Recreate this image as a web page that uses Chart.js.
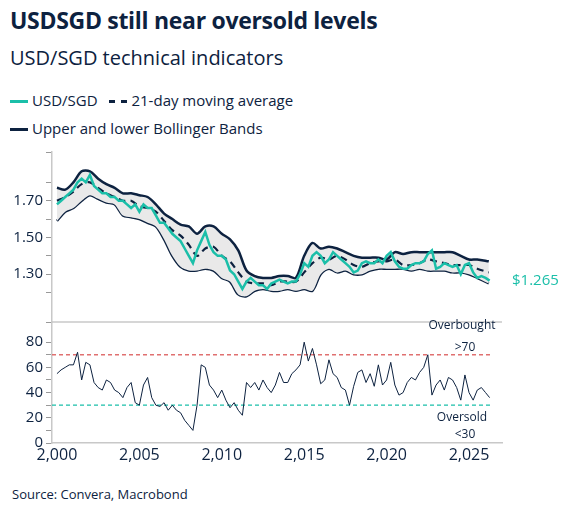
<!DOCTYPE html>
<html><head><meta charset="utf-8">
<script src="https://cdn.jsdelivr.net/npm/chart.js@4"></script>
<style>
body{margin:0;width:568px;height:520px;background:#fff;font-family:"Open Sans","Noto Sans",sans-serif;color:#0d2240;position:relative;overflow:hidden}
.t{position:absolute;white-space:nowrap}
#title{left:10px;top:4px;font-size:23px;font-weight:700;letter-spacing:-0.3px}
#sub{left:10px;top:44px;font-size:20px}
.lg{font-size:15px}
.sw{display:inline-block;width:18px;height:0;border-top:3px solid;vertical-align:middle;margin-right:4px}
#src{left:12px;top:485px;font-size:13px}
canvas{position:absolute;left:0;top:0}
</style></head><body>
<div class="t" id="title">USDSGD still near oversold levels</div>
<div class="t" id="sub">USD/SGD technical indicators</div>
<div class="t lg" style="left:10px;top:90px"><span class="sw" style="border-color:#1bbfa9"></span>USD/SGD <span class="sw" style="border-color:#0d2240;border-top-style:dashed;margin-left:8px"></span>21-day moving average</div>
<div class="t lg" style="left:10px;top:118px"><span class="sw" style="border-color:#0d2240"></span>Upper and lower Bollinger Bands</div>
<div class="t" id="src">Source: Convera, Macrobond</div>
<canvas id="c" width="568" height="520"></canvas>
<script>
const spotX=[];for(let i=0;i<106;i++)spotX.push(2000+i*0.25);
const spot=[1.68,1.70,1.72,1.74,1.76,1.80,1.82,1.80,1.84,1.78,1.76,1.74,1.74,1.72,1.72,1.70,1.70,1.68,1.66,1.68,1.64,1.68,1.66,1.66,1.62,1.58,1.58,1.55,1.52,1.50,1.48,1.44,1.40,1.36,1.43,1.48,1.53,1.46,1.42,1.40,1.40,1.38,1.32,1.30,1.26,1.22,1.26,1.28,1.26,1.24,1.24,1.22,1.25,1.26,1.27,1.26,1.25,1.26,1.26,1.30,1.36,1.34,1.40,1.42,1.40,1.36,1.38,1.42,1.40,1.38,1.36,1.34,1.31,1.32,1.36,1.37,1.36,1.36,1.38,1.36,1.40,1.42,1.37,1.34,1.33,1.33,1.35,1.36,1.36,1.37,1.41,1.43,1.33,1.34,1.36,1.35,1.34,1.35,1.30,1.35,1.36,1.31,1.28,1.29,1.28,1.265];
const bandX=[];for(let i=0;i<52;i++)bandX.push(2000+i*0.5);bandX.push(2026.2);
const ma=[1.70,1.72,1.75,1.79,1.80,1.77,1.74,1.72,1.70,1.70,1.67,1.66,1.64,1.59,1.54,1.51,1.46,1.40,1.44,1.45,1.40,1.37,1.31,1.26,1.25,1.25,1.24,1.26,1.26,1.26,1.31,1.36,1.39,1.38,1.40,1.38,1.35,1.34,1.36,1.37,1.37,1.38,1.35,1.35,1.36,1.38,1.37,1.36,1.35,1.35,1.35,1.33,1.31];
const upper=[1.77,1.76,1.80,1.86,1.86,1.82,1.79,1.77,1.74,1.74,1.73,1.72,1.68,1.63,1.60,1.57,1.56,1.52,1.56,1.56,1.52,1.49,1.43,1.32,1.29,1.28,1.28,1.29,1.29,1.28,1.40,1.47,1.44,1.45,1.44,1.42,1.40,1.39,1.39,1.39,1.38,1.42,1.41,1.42,1.42,1.42,1.42,1.42,1.42,1.40,1.38,1.38,1.37];
const lower=[1.59,1.64,1.66,1.70,1.73,1.71,1.69,1.68,1.62,1.61,1.60,1.58,1.56,1.49,1.40,1.34,1.32,1.32,1.33,1.32,1.28,1.26,1.19,1.18,1.21,1.22,1.21,1.21,1.22,1.21,1.22,1.21,1.30,1.33,1.31,1.32,1.30,1.30,1.32,1.33,1.33,1.33,1.33,1.32,1.33,1.32,1.32,1.32,1.31,1.31,1.30,1.28,1.25];
const rsi=[55,58,60,62,62,72,50,64,62,48,44,42,50,48,42,40,36,44,48,32,30,46,52,36,30,29,32,26,30,26,24,18,14,10,30,62,60,46,42,36,42,34,28,32,26,22,48,44,48,42,50,44,40,46,56,48,48,55,58,62,80,65,75,62,47,50,66,55,52,44,42,30,45,56,58,48,55,45,62,46,50,64,46,38,40,48,52,50,56,60,70,38,46,50,42,52,50,44,34,54,40,34,42,44,40,36];
const xTicks=[2000,2005,2010,2015,2020,2025];
const navy='#0d2240',teal='#1bbfa9';
const pts=(xs,ys)=>xs.map((x,i)=>({x,y:ys[i]}));
const last=spot[spot.length-1];
const extra={id:'extra',afterDraw(c){const x=c.ctx,a=c.chartArea,y1=c.scales.y1,y2=c.scales.y2;
 x.save();x.strokeStyle='#c8c8c8';x.lineWidth=1.5;x.beginPath();x.moveTo(a.left,y1.bottom);x.lineTo(a.right,y1.bottom);x.stroke();
 x.font='15px "Open Sans"';x.fillStyle=teal;x.textBaseline='middle';x.fillText('$'+last.toFixed(3),512,y1.getPixelForValue(last));
 x.fillStyle=navy;x.font='12px "Open Sans"';x.textAlign='center';
 x.fillText('Overbought',462,y2.getPixelForValue(93));x.fillText('>70',465,y2.getPixelForValue(76));
 x.fillText('Oversold',462,y2.getPixelForValue(20));x.fillText('<30',465,y2.getPixelForValue(7));
 x.restore();}};
const hl=(v,col)=>({data:[{x:1999.7,y:v},{x:2026.3,y:v}],yAxisID:'y2',borderColor:col,borderWidth:1.3,borderDash:[4,3],pointRadius:0,order:5});
new Chart(document.getElementById('c'),{type:'line',
 data:{datasets:[
  {data:pts(bandX,upper),yAxisID:'y1',borderColor:navy,borderWidth:2.5,pointRadius:0,fill:'+1',backgroundColor:'#e9e9e9',tension:0.3,order:4},
  {data:pts(bandX,lower),yAxisID:'y1',borderColor:navy,borderWidth:2.5,pointRadius:0,tension:0.3,order:4},
  {data:pts(bandX,ma),yAxisID:'y1',borderColor:navy,borderWidth:2.2,borderDash:[7,5],pointRadius:0,tension:0.3,order:2},
  {data:pts(spotX,spot),yAxisID:'y1',borderColor:teal,borderWidth:2.5,pointRadius:0,order:1},
  hl(70,'#e07070'),hl(30,teal),
  {data:pts(spotX,rsi),yAxisID:'y2',borderColor:navy,borderWidth:1,pointRadius:0,order:1}
 ]},
 plugins:[extra],
 options:{responsive:false,animation:false,plugins:{legend:{display:false},tooltip:{enabled:false}},
  layout:{padding:{top:152,right:66,bottom:47,left:0}},
  scales:{
   x:{type:'linear',min:1999.7,max:2027,afterFit:s=>{s.height=30},afterBuildTicks:s=>{s.ticks=xTicks.map(v=>({value:v}))},
     ticks:{autoSkip:false,color:navy,font:{size:16,family:'Open Sans'},maxRotation:0},
     grid:{display:false,drawTicks:false},border:{color:'#c8c8c8',width:1.5}},
   y2:{stack:'s',stackWeight:121,min:0,max:96,afterFit:s=>{s.width=52},
     ticks:{stepSize:10,autoSkip:false,color:navy,font:{size:15,family:'Open Sans'},callback:v=>v%20===0&&v<=80?String(v):''},
     grid:{drawOnChartArea:false,tickLength:6,color:'#999'},border:{color:'#c8c8c8',width:1.5}},
   y1:{stack:'s',stackWeight:170,min:1.04,max:1.965,afterFit:s=>{s.width=52},
     ticks:{stepSize:0.1,autoSkip:false,color:navy,font:{size:15,family:'Open Sans'},callback:v=>{const r=Math.round(v*10);return (r%2===1&&r>=11&&r<=19)?(r/10).toFixed(2):''}},
     grid:{drawOnChartArea:false,tickLength:6,color:'#999'},border:{color:'#c8c8c8',width:1.5}}
  }}});
</script></body></html>
